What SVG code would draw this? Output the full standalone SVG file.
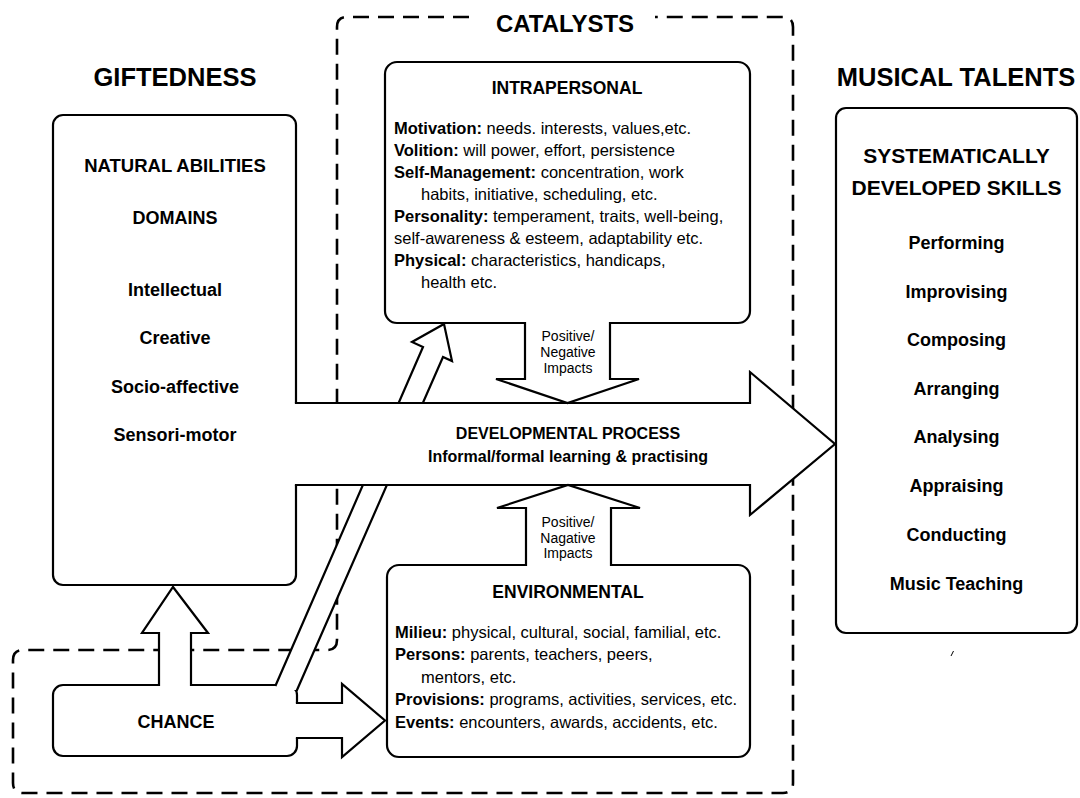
<svg xmlns="http://www.w3.org/2000/svg" width="1080" height="798" viewBox="0 0 1080 798">
<style>
text { font-family: "Liberation Sans", Arial, Helvetica, sans-serif; fill: #000; }
.box { fill: #fff; stroke: #000; stroke-width: 2.2; }
.cover { fill: #fff; stroke: none; }
.line { fill: none; stroke: #000; stroke-width: 2.2; stroke-linecap: square; stroke-linejoin: miter; }
.dash { fill: none; stroke: #000; stroke-width: 2.6; stroke-dasharray: 16 9; }
.title { font-size: 25.5px; font-weight: bold; text-anchor: middle; }
.cat { font-size: 24px; font-weight: bold; text-anchor: middle; }
.head { font-size: 18.5px; font-weight: bold; text-anchor: middle; }
.item { font-size: 18px; font-weight: bold; text-anchor: middle; }
.sub { font-size: 21px; font-weight: bold; text-anchor: middle; }
.bh { font-size: 17.5px; font-weight: bold; text-anchor: middle; }
.body { font-size: 16.5px; }
.b { font-weight: bold; }
.imp { font-size: 14px; text-anchor: middle; }
.dev { font-size: 16px; font-weight: bold; text-anchor: middle; }
</style>

<rect x="0" y="0" width="1080" height="798" fill="#fff"/>

<g id="catalysts-frame">
  <path class="dash" d="M 469,17 H 347 Q 337,17 337,27 V 640 Q 337,650 327,650 H 23 Q 13,650 13,660 V 783 Q 13,793 23,793 H 783 Q 793,793 793,783 V 27 Q 793,17 783,17 H 655"/>
  <text class="cat" x="565" y="32">CATALYSTS</text>
</g>

<g id="giftedness">
  <text class="title" x="175" y="86">GIFTEDNESS</text>
</g>

<g id="musical-talents">
  <text class="title" x="956" y="86">MUSICAL TALENTS</text>
</g>

<g id="natural-abilities">
  <rect class="box" x="53" y="115" width="243" height="470" rx="10"/>
  <text class="head" x="175" y="172">NATURAL ABILITIES</text>
  <text class="item" x="175" y="224">DOMAINS</text>
  <text class="item" x="175" y="296">Intellectual</text>
  <text class="item" x="175" y="344">Creative</text>
  <text class="item" x="175" y="393">Socio-affective</text>
  <text class="item" x="175" y="441">Sensori-motor</text>
</g>

<g id="intrapersonal">
  <rect class="box" x="385" y="62" width="365" height="261" rx="12"/>
  <text class="bh" x="567" y="94">INTRAPERSONAL</text>
  <text class="body" x="394" y="134"><tspan class="b">Motivation:</tspan> needs. interests, values,etc.</text>
  <text class="body" x="394" y="156"><tspan class="b">Volition:</tspan> will power, effort, persistence</text>
  <text class="body" x="394" y="178"><tspan class="b">Self-Management:</tspan> concentration, work</text>
  <text class="body" x="421" y="200">habits, initiative, scheduling, etc.</text>
  <text class="body" x="394" y="222"><tspan class="b">Personality:</tspan> temperament, traits, well-being,</text>
  <text class="body" x="394" y="244">self-awareness &amp; esteem, adaptability etc.</text>
  <text class="body" x="394" y="266"><tspan class="b">Physical:</tspan> characteristics, handicaps,</text>
  <text class="body" x="421" y="288">health etc.</text>
</g>

<g id="environmental">
  <rect class="box" x="387" y="565" width="363" height="192" rx="12"/>
  <text class="bh" x="568" y="598">ENVIRONMENTAL</text>
  <text class="body" x="395" y="638"><tspan class="b">Milieu:</tspan> physical, cultural, social, familial, etc.</text>
  <text class="body" x="395" y="660"><tspan class="b">Persons:</tspan> parents, teachers, peers,</text>
  <text class="body" x="421" y="683">mentors, etc.</text>
  <text class="body" x="395" y="705"><tspan class="b">Provisions:</tspan> programs, activities, services, etc.</text>
  <text class="body" x="395" y="728"><tspan class="b">Events:</tspan> encounters, awards, accidents, etc.</text>
</g>

<g id="chance">
  <rect class="box" x="53" y="685" width="244" height="71" rx="10"/>
  <text class="item" x="176" y="728">CHANCE</text>
</g>

<g id="skills">
  <rect class="box" x="836" y="108" width="241" height="525" rx="10"/>
  <text class="sub" x="956.5" y="163">SYSTEMATICALLY</text>
  <text class="sub" x="956.5" y="195">DEVELOPED SKILLS</text>
  <text class="item" x="956.5" y="249">Performing</text>
  <text class="item" x="956.5" y="298">Improvising</text>
  <text class="item" x="956.5" y="346">Composing</text>
  <text class="item" x="956.5" y="395">Arranging</text>
  <text class="item" x="956.5" y="443">Analysing</text>
  <text class="item" x="956.5" y="492">Appraising</text>
  <text class="item" x="956.5" y="541">Conducting</text>
  <text class="item" x="956.5" y="590">Music Teaching</text>
  <path d="M 951,656 L 953.5,651" fill="none" stroke="#000" stroke-width="1"/>
</g>

<g id="connectors">
  <!-- chance to intrapersonal (diagonal) -->
  <path class="cover" d="M 273.6,690 L 423,347 L 412,342 L 444,324 L 452,361 L 443,357 L 297,690 Z"/>
  <path class="line" d="M 275.8,685 L 423,347 L 412,342 L 444,324 L 452,361 L 443,357 L 297,690"/>
  <!-- chance to natural abilities -->
  <path class="cover" d="M 159,688 V 633 H 142 L 173,587 L 208,633 H 191 V 688 Z"/>
  <path class="line" d="M 159,685 V 633 H 142 L 173,587 L 208,633 H 191 V 685"/>
  <!-- chance to environmental -->
  <path class="cover" d="M 294,703 H 342 V 684 L 385,720.5 L 342,757 V 738 H 294 Z"/>
  <path class="line" d="M 297,703 H 342 V 684 L 385,720.5 L 342,757 V 738 H 297"/>
  <!-- developmental process -->
  <path class="cover" d="M 293,403 H 750 V 372 L 835,444 L 750,515 V 485 H 293 Z"/>
  <path class="line" d="M 296,403 H 750 V 372 L 835,444 L 750,515 V 485 H 296"/>
  <text class="dev" x="568" y="439">DEVELOPMENTAL PROCESS</text>
  <text class="dev" x="568" y="462">Informal/formal learning &amp; practising</text>
  <!-- intrapersonal impacts -->
  <path class="cover" d="M 525,320 V 379 H 496 L 567.5,403 L 639,379 H 610 V 320 Z"/>
  <path class="line" d="M 525,323 V 379 H 496 L 567.5,403 L 639,379 H 610 V 323"/>
  <text class="imp" x="568" y="341">Positive/</text>
  <text class="imp" x="568" y="357">Negative</text>
  <text class="imp" x="568" y="373">Impacts</text>
  <!-- environmental impacts -->
  <path class="cover" d="M 526,568 V 508 H 497 L 568,485 L 640,508 H 611 V 568 Z"/>
  <path class="line" d="M 526,565 V 508 H 497 L 568,485 L 640,508 H 611 V 565"/>
  <text class="imp" x="568" y="527">Positive/</text>
  <text class="imp" x="568" y="543">Nagative</text>
  <text class="imp" x="568" y="558">Impacts</text>
</g>
</svg>
